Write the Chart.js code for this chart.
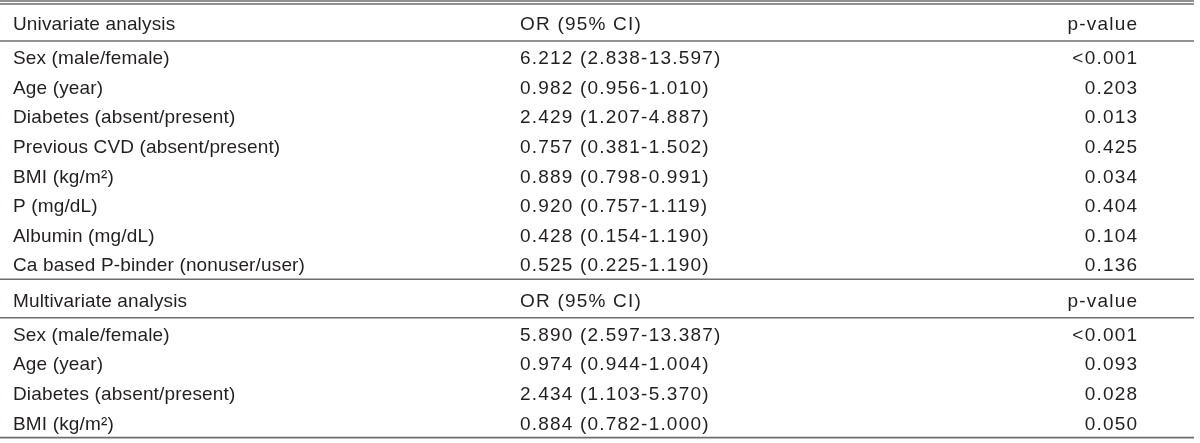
<!DOCTYPE html>
<html>
<head>
<meta charset="utf-8">
<script src="https://cdn.jsdelivr.net/npm/chart.js@4"></script>
<style>
  html, body { margin: 0; padding: 0; background: #fff; }
  canvas { display: block; }
</style>
</head>
<body>
<canvas id="orTable" width="1200" height="443"></canvas>
<script>
// table content
const groupTitles = ['Univariate analysis', 'Multivariate analysis'];
const columnHeaders = ['OR (95% CI)', 'p-value'];

const uniVariables = ['Sex (male/female)', 'Age (year)', 'Diabetes (absent/present)', 'Previous CVD (absent/present)',
  'BMI (kg/m\u00B2)', 'P (mg/dL)', 'Albumin (mg/dL)', 'Ca based P-binder (nonuser/user)'];
const uniOR = ['6.212 (2.838-13.597)', '0.982 (0.956-1.010)', '2.429 (1.207-4.887)', '0.757 (0.381-1.502)',
  '0.889 (0.798-0.991)', '0.920 (0.757-1.119)', '0.428 (0.154-1.190)', '0.525 (0.225-1.190)'];
const uniP = ['<0.001', '0.203', '0.013', '0.425', '0.034', '0.404', '0.104', '0.136'];

const multiVariables = ['Sex (male/female)', 'Age (year)', 'Diabetes (absent/present)', 'BMI (kg/m\u00B2)'];
const multiOR = ['5.890 (2.597-13.387)', '0.974 (0.944-1.004)', '2.434 (1.103-5.370)', '0.884 (0.782-1.000)'];
const multiP = ['<0.001', '0.093', '0.028', '0.050'];

(function initTable(){
  if (!window.Chart) return;
  const ink = '#231f20';
  const rule = '#6e6e6e';
  const colLabel = 13 / 1200, colOR = 520 / 1200, colP = 1137 / 1200, ruleEnd = 1194 / 1200;

  const groups = [
    { title: groupTitles[0], vars: uniVariables, or: uniOR, p: uniP },
    { title: groupTitles[1], vars: multiVariables, or: multiOR, p: multiP }
  ];

  // row slots (1 unit = one body row)
  const cells = { label: [], or: [], p: [] };
  const rules = [-0.753, -0.652];
  let slot = 0;
  groups.forEach(g => {
    cells.label.push({ y: slot, t: g.title });
    cells.or.push({ y: slot, t: columnHeaders[0] });
    cells.p.push({ y: slot, t: columnHeaders[1] });
    rules.push(slot + 0.6);
    let y = slot + 1.15;
    g.vars.forEach((v, i) => {
      cells.label.push({ y: y, t: v });
      cells.or.push({ y: y, t: g.or[i] });
      cells.p.push({ y: y, t: g.p[i] });
      y += 1;
    });
    const last = y - 1;
    rules.push(last + 0.5);
    slot = last + 1.2;
  });

  const textSet = (list, x, align, spacing) => ({
    type: 'scatter',
    data: list.map(c => ({ x: x, y: c.y })),
    texts: list.map(c => c.t),
    align: align,
    spacing: spacing,
    pointRadius: 0
  });

  const ruleSets = rules.map(r => ({
    type: 'line',
    data: [{ x: 0, y: r }, { x: ruleEnd, y: r }],
    borderColor: rule,
    borderWidth: 1.6,
    pointRadius: 0,
    showLine: true
  }));

  const cellText = {
    id: 'cellText',
    afterDatasetsDraw(chart) {
      const ctx = chart.ctx;
      ctx.save();
      ctx.fillStyle = ink;
      ctx.font = '19px "Liberation Sans", Arial, sans-serif';
      ctx.textBaseline = 'alphabetic';
      chart.data.datasets.forEach((ds, i) => {
        if (!ds.texts) return;
        ctx.textAlign = ds.align;
        if ('letterSpacing' in ctx) ctx.letterSpacing = ds.spacing + 'px';
        chart.getDatasetMeta(i).data.forEach((pt, j) => {
          let x = pt.x;
          if (ds.align === 'right') x += ds.spacing;
          ctx.fillText(ds.texts[j], x, pt.y + 6.8);
        });
      });
      ctx.restore();
    }
  };

  new Chart(document.getElementById('orTable'), {
    type: 'scatter',
    data: {
      datasets: ruleSets.concat([
        textSet(cells.label, colLabel, 'left', 0.15),
        textSet(cells.or, colOR, 'left', 1.2),
        textSet(cells.p, colP, 'right', 1.2)
      ])
    },
    options: {
      responsive: false,
      animation: false,
      layout: { padding: 0 },
      plugins: { legend: { display: false }, tooltip: { enabled: false } },
      events: [],
      scales: {
        x: { type: 'linear', min: 0, max: 1, display: false },
        y: { type: 'linear', min: -0.787, max: 14.18, reverse: true, display: false }
      }
    },
    plugins: [cellText]
  });
})();
</script>
</body>
</html>
